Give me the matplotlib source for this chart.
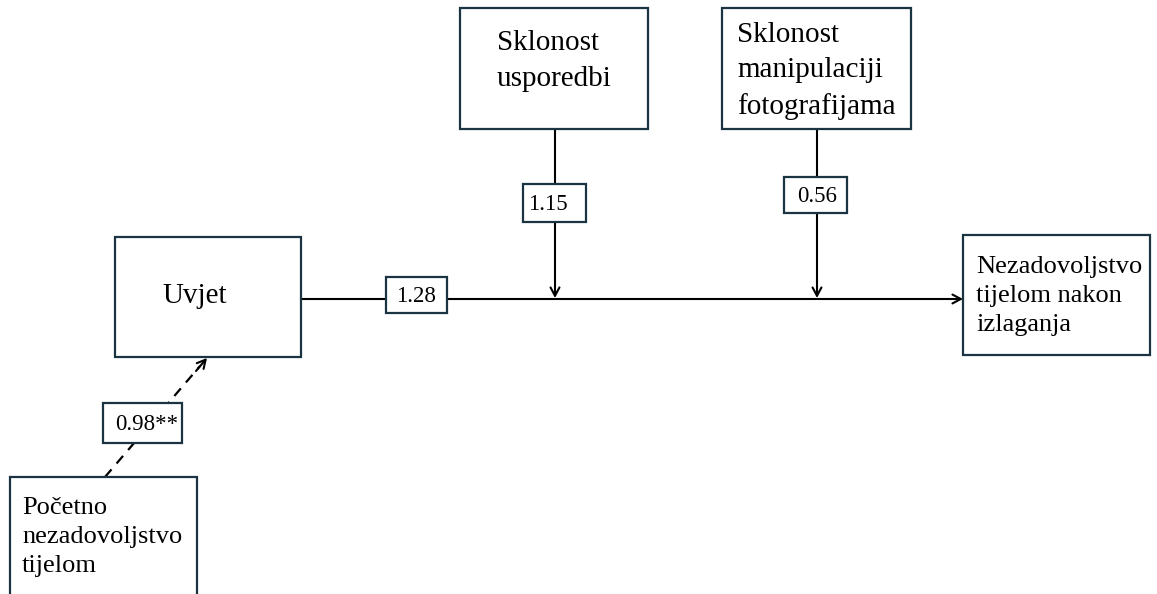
import matplotlib.pyplot as plt
from matplotlib.patches import Rectangle

# node labels
node_names = ['Uvjet', 'Sklonost\nusporedbi', 'Sklonost\nmanipulaciji\nfotografijama',
              'Nezadovoljstvo\ntijelom nakon\nizlaganja', 'Početno\nnezadovoljstvo\ntijelom']
# path coefficients
coef_labels = ['1.28', '1.15', '0.56', '0.98**']

BORDER = '#1b3442'
FONT = 'Liberation Serif'


def draw_box(ax, x0, y0, x1, y1):
    ax.add_patch(Rectangle((x0, y0), x1 - x0, y1 - y0, facecolor='white',
                           edgecolor=BORDER, linewidth=1.6, zorder=3))


def draw_node(ax, box, text, tx, ty, size, spacing):
    draw_box(ax, *box)
    ax.text(tx, ty, text, ha='left', va='center', fontsize=size, family=FONT,
            linespacing=spacing, zorder=4)


def draw_coef(ax, box, text, cx, cy):
    draw_box(ax, *box)
    ax.text(cx, cy, text, ha='center', va='center', fontsize=16.5,
            family=FONT, zorder=4)


def arrow(ax, start, end, style='-'):
    ax.annotate('', xy=end, xytext=start, zorder=2,
                arrowprops=dict(arrowstyle='->,head_length=0.6,head_width=0.32',
                                color='black', lw=1.5, linestyle=style,
                                shrinkA=0, shrinkB=0))


fig = plt.figure(figsize=(11.57, 5.94), dpi=100)
ax = fig.add_axes([0, 0, 1, 1])
ax.set_xlim(0, 1157)
ax.set_ylim(594, 0)
ax.axis('off')

# paths
arrow(ax, (301, 299), (963, 299))
arrow(ax, (555, 129), (555, 298))
arrow(ax, (817, 129), (817, 298))
ax.plot([105, 200], [477, 366], color='black', lw=1.6, dashes=(4.5, 3.5), zorder=2)
arrow(ax, (196, 371), (207, 358))

# nodes
draw_node(ax, (115, 237, 301, 357), node_names[0], 162, 296, 21, 1.2)
draw_node(ax, (460, 8, 648, 129), node_names[1], 497, 61, 21, 1.46)
draw_node(ax, (722, 8, 911, 129), node_names[2], 737, 71, 21, 1.46)
draw_node(ax, (963, 235, 1150, 355), node_names[3], 976, 296, 19, 1.4)
draw_node(ax, (10, 477, 197, 610), node_names[4], 22, 537, 19, 1.4)

# coefficients
draw_coef(ax, (386, 277, 447, 313), coef_labels[0], 416, 296)
draw_coef(ax, (523, 184, 586, 222), coef_labels[1], 548, 204)
draw_coef(ax, (784, 177, 847, 213), coef_labels[2], 817, 196)
draw_coef(ax, (103, 403, 182, 443), coef_labels[3], 147, 424)

fig.savefig('out.png', dpi=100)
